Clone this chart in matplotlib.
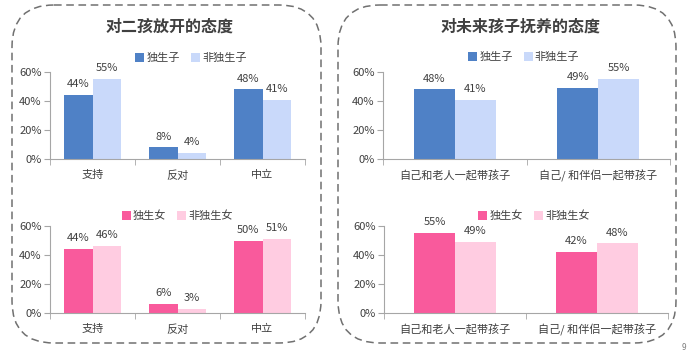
import numpy as np
import matplotlib.pyplot as plt
from matplotlib.patches import FancyBboxPatch

plt.rcParams['font.family'] = ['Noto Sans CJK SC', 'DejaVu Sans']

# data
cats_left = ['支持', '反对', '中立']
cats_right = ['自己和老人一起带孩子', '自己/ 和伴侣一起带孩子']
son_only = [44, 8, 48]
son_other = [55, 4, 41]
dau_only = [44, 6, 50]
dau_other = [46, 3, 51]
son_only_r = [48, 49]
son_other_r = [41, 55]
dau_only_r = [55, 42]
dau_other_r = [49, 48]
yticks = [0, 20, 40, 60]

blue = '#4F81C6'
lblue = '#C9D9FA'
pink = '#F95A9C'
lpink = '#FFCCE1'
axis_c = '#A6A6A6'
text_c = '#404040'

W, H = 690, 352
fig = plt.figure(figsize=(W / 100, H / 100), dpi=100)

# background axes in pixel coords for dashed boxes
bg = fig.add_axes([0, 0, 1, 1])
bg.set_xlim(0, W)
bg.set_ylim(H, 0)
bg.axis('off')
for x0, x1 in [(12, 321), (338, 676)]:
    box = FancyBboxPatch((x0, 5), x1 - x0, 338,
                         boxstyle='round,pad=0,rounding_size=42',
                         fill=False, ec='#707070', lw=1.1, ls=(0, (5, 3)))
    bg.add_patch(box)
bg.text(170, 27, '对二孩放开的态度', ha='center', va='center',
        fontsize=11.5, fontweight='bold', color='#404040')
bg.text(521, 27, '对未来孩子抚养的态度', ha='center', va='center',
        fontsize=11.5, fontweight='bold', color='#404040')
bg.text(684, 347, '9', ha='center', va='center', fontsize=6, color='#808080')


def px_axes(x0, x1, ytop, ybot):
    return fig.add_axes([x0 / W, 1 - ybot / H, (x1 - x0) / W, (ybot - ytop) / H])


def panel(x0, x1, ytop, ybot, cats, a, b, ca, cb, la, lb, width, leg_x, leg_y):
    ax = px_axes(x0, x1, ytop, ybot)
    x = np.arange(len(cats))
    ax.bar(x - width / 2, a, width, color=ca, label=la)
    ax.bar(x + width / 2, b, width, color=cb, label=lb)
    for xi, v in zip(x - width / 2, a):
        ax.text(xi, v + 4, f'{v}%', ha='center', va='bottom', fontsize=8, color=text_c)
    for xi, v in zip(x + width / 2, b):
        ax.text(xi, v + 4, f'{v}%', ha='center', va='bottom', fontsize=8, color=text_c)
    ax.set_xlim(-0.5, len(cats) - 0.5)
    ax.set_ylim(0, 60)
    ax.set_yticks(yticks)
    ax.set_yticklabels([f'{t}%' for t in yticks])
    ax.set_xticks(x)
    ax.set_xticklabels(cats)
    ax.set_xticks(np.arange(len(cats) + 1) - 0.5, minor=True)
    ax.tick_params(axis='x', which='major', length=0, pad=8, labelsize=8, labelcolor=text_c)
    ax.tick_params(axis='x', which='minor', length=4, color=axis_c, direction='out')
    ax.tick_params(axis='y', length=4, color=axis_c, labelsize=8, labelcolor=text_c, pad=2)
    for s in ['top', 'right']:
        ax.spines[s].set_visible(False)
    for s in ['left', 'bottom']:
        ax.spines[s].set_color(axis_c)
    ax.set_facecolor('none')
    leg = ax.legend(loc='center', bbox_to_anchor=(leg_x, leg_y), ncol=2, frameon=False,
                    fontsize=8, handlelength=0.8, handleheight=0.8, handletextpad=0.2,
                    columnspacing=1.0, borderaxespad=0)
    for t in leg.get_texts():
        t.set_color(text_c)
    return ax


panel(50, 305, 72, 159, cats_left, son_only, son_other, blue, lblue,
      '独生子', '非独生子', 0.335, 0.553, 1.16)
panel(50, 305, 226, 313, cats_left, dau_only, dau_other, pink, lpink,
      '独生女', '非独生女', 0.335, 0.5, 1.115)
panel(383, 670, 72, 159, cats_right, son_only_r, son_other_r, blue, lblue,
      '独生子', '非独生子', 0.287, 0.49, 1.17)
panel(384, 668, 226, 313, cats_right, dau_only_r, dau_other_r, pink, lpink,
      '独生女', '非独生女', 0.287, 0.528, 1.115)

fig.savefig('out.png', dpi=100)
